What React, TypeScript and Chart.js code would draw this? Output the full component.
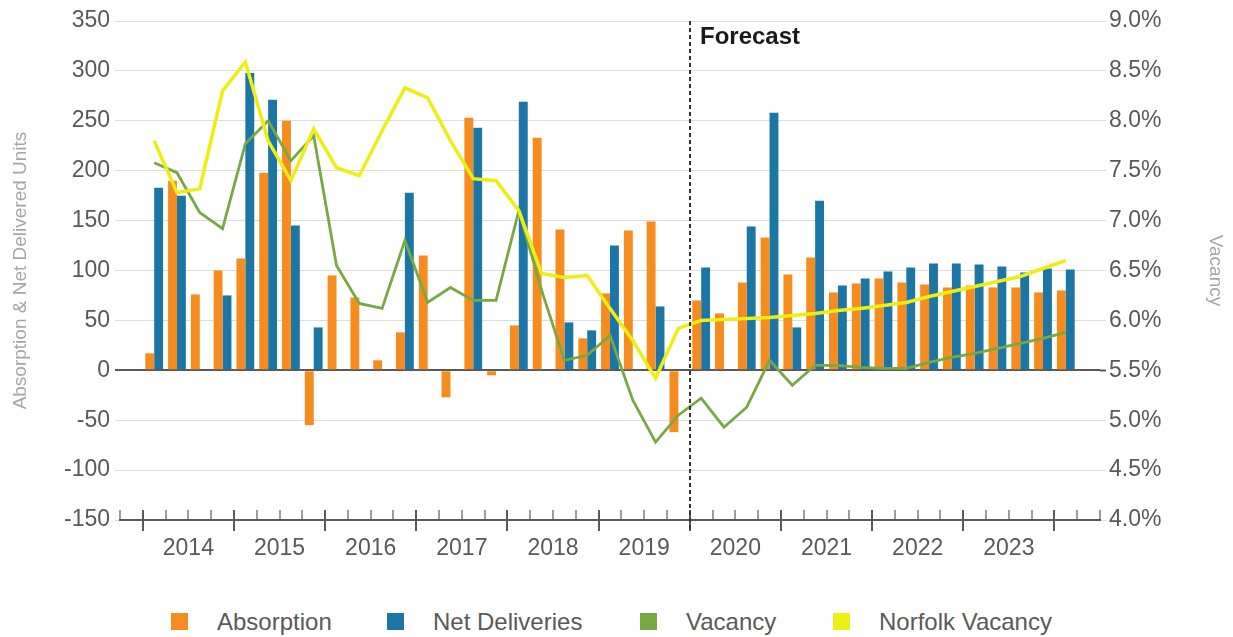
import React, { useEffect, useRef } from 'react';
import { Chart, registerables } from 'chart.js';

Chart.register(...registerables);

// ---- data -------------------------------------------------------------
const years = ['2014', '2015', '2016', '2017', '2018', '2019', '2020', '2021', '2022', '2023'];

// one entry per quarter, 2014 Q1 through 2024 Q1
const quarters = [
  ...years.flatMap((y) => ['Q1', 'Q2', 'Q3', 'Q4'].map((q) => `${y} ${q}`)),
  '2024 Q1',
];

const absorption = [
  17, 190, 76, 100,
  112, 198, 250, -55,
  95, 73, 10, 38,
  115, -27, 253, -5,
  45, 233, 141, 32,
  77, 140, 149, -62,
  70, 57, 88, 133,
  96, 113, 78, 87,
  92, 88, 86, 83,
  85, 83, 83, 78,
  80,
];

const netDeliveries = [
  183, 175, 0, 75,
  298, 271, 145, 43,
  0, 0, 0, 178,
  0, 0, 243, 0,
  269, 0, 48, 40,
  125, 0, 64, 0,
  103, 0, 144, 258,
  43, 170, 85, 92,
  99, 103, 107, 107,
  106, 104, 98, 102,
  101,
];

const vacancy = [
  7.58, 7.48, 7.08, 6.92,
  7.77, 8.0, 7.6, 7.85,
  6.55, 6.17, 6.12, 6.8,
  6.18, 6.33, 6.2, 6.2,
  7.1, 6.3, 5.6, 5.65,
  5.85, 5.2, 4.78, 5.05,
  5.22, 4.93, 5.13, 5.6,
  5.35, 5.55, 5.55, 5.53,
  5.52, 5.52, 5.58, 5.63,
  5.67, 5.72, 5.77, 5.82,
  5.88,
];

const norfolkVacancy = [
  7.8, 7.28, 7.32, 8.3,
  8.59, 7.8, 7.4, 7.92,
  7.53, 7.45, 7.9, 8.33,
  8.23, 7.8, 7.42, 7.4,
  7.1, 6.47, 6.43, 6.45,
  6.12, 5.8, 5.42, 5.92,
  6.0, 6.01, 6.02, 6.03,
  6.05, 6.07, 6.1, 6.12,
  6.15, 6.18, 6.24, 6.29,
  6.34, 6.39, 6.44, 6.52,
  6.6,
];

const forecastStart = '2020 Q1';

// ---- styling ----------------------------------------------------------
const FONT = '"Liberation Sans", Arial, Helvetica, sans-serif';
const ORANGE = '#f68b1f';
const BLUE = '#1b76a6';
const GREEN = '#77a843';
const YELLOW = '#eeee14';
const TEXT = '#595959';
const AXIS = '#5a5a5a';
const GRID = '#dcdcdc';

// an empty slot is kept on each side of the quarterly series
const pad = <T,>(arr: T[]): (T | null)[] => [null, ...arr, null];
const slotLabels = ['', ...quarters, ' '];
const slotCount = slotLabels.length;
const forecastAt = quarters.indexOf(forecastStart) + 1;

const legendItems = [
  { label: 'Absorption', color: ORANGE },
  { label: 'Net Deliveries', color: BLUE },
  { label: 'Vacancy', color: GREEN },
  { label: 'Norfolk Vacancy', color: YELLOW },
];
const legendTextX = [217, 433, 686, 879];

// quarter tick marks, year boundaries, and the forecast divider
const axisDecor = {
  id: 'axisDecor',
  afterDraw(chart: any) {
    const { ctx, chartArea } = chart;
    const s = chart.scales.x2;
    const bottom = chartArea.bottom;
    ctx.save();
    ctx.strokeStyle = AXIS;
    for (let k = 0; k <= slotCount; k++) {
      const px = Math.round(s.getPixelForValue(k));
      const major = k >= 1 && k <= quarters.length && (k - 1) % 4 === 0;
      ctx.lineWidth = major ? 2 : 1.2;
      ctx.beginPath();
      ctx.moveTo(px, bottom - 10);
      ctx.lineTo(px, major ? bottom + 11 : bottom);
      ctx.stroke();
    }

    const fx = Math.round(s.getPixelForValue(forecastAt));
    ctx.strokeStyle = '#333333';
    ctx.lineWidth = 2;
    ctx.setLineDash([4, 3]);
    ctx.beginPath();
    ctx.moveTo(fx, chartArea.top);
    ctx.lineTo(fx, bottom + 11);
    ctx.stroke();
    ctx.setLineDash([]);

    ctx.font = `bold 24px ${FONT}`;
    ctx.fillStyle = '#1a1a1a';
    ctx.textAlign = 'left';
    ctx.textBaseline = 'alphabetic';
    ctx.fillText('Forecast', fx + 10, chartArea.top + 23);
    ctx.restore();
  },
};

export default function App() {
  const canvasRef = useRef<HTMLCanvasElement>(null);

  useEffect(() => {
    const canvas = canvasRef.current;
    if (!canvas) return;

    const chart = new Chart(canvas, {
      type: 'bar',
      data: {
        labels: slotLabels,
        datasets: [
          {
            type: 'line',
            label: 'Norfolk Vacancy',
            data: pad(norfolkVacancy),
            borderColor: YELLOW,
            backgroundColor: YELLOW,
            borderWidth: 3.5,
            pointRadius: 0,
            tension: 0,
            yAxisID: 'y1',
            xAxisID: 'x',
            order: 0,
          },
          {
            type: 'line',
            label: 'Vacancy',
            data: pad(vacancy),
            borderColor: GREEN,
            backgroundColor: GREEN,
            borderWidth: 2.8,
            pointRadius: 0,
            tension: 0,
            yAxisID: 'y1',
            xAxisID: 'x',
            order: 1,
          },
          {
            type: 'bar',
            label: 'Absorption',
            data: pad(absorption),
            backgroundColor: ORANGE,
            yAxisID: 'y',
            xAxisID: 'x',
            categoryPercentage: 0.78,
            barPercentage: 1,
            order: 2,
          },
          {
            type: 'bar',
            label: 'Net Deliveries',
            data: pad(netDeliveries),
            backgroundColor: BLUE,
            yAxisID: 'y',
            xAxisID: 'x',
            categoryPercentage: 0.78,
            barPercentage: 1,
            order: 2,
          },
        ] as any,
      },
      options: {
        animation: false,
        responsive: true,
        maintainAspectRatio: false,
        devicePixelRatio: 1,
        layout: { padding: { top: 21, left: 0, right: 0, bottom: 0 } },
        plugins: {
          legend: { display: false },
          tooltip: { enabled: false },
        },
        scales: {
          x: {
            type: 'category',
            display: false,
            offset: true,
            grid: { display: false },
          },
          x2: {
            type: 'linear',
            position: 'bottom',
            offset: false,
            bounds: 'data',
            min: 0,
            max: slotCount,
            grid: { display: false, drawTicks: false, offset: false },
            border: { display: true, color: AXIS, width: 2 },
            afterBuildTicks: (scale: any) => {
              scale.ticks = years.map((_, i) => ({ value: 1 + i * 4 + 2 }));
            },
            afterFit: (scale: any) => {
              scale.height = 80;
            },
            ticks: {
              autoSkip: false,
              maxRotation: 0,
              padding: 15,
              color: TEXT,
              font: { family: FONT, size: 23 },
              callback: (_v: any, i: number) => years[i],
            },
          },
          y: {
            position: 'left',
            min: -150,
            max: 350,
            afterFit: (scale: any) => {
              scale.width = 120;
            },
            ticks: {
              stepSize: 50,
              padding: 5,
              color: TEXT,
              font: { family: FONT, size: 23 },
            },
            border: { display: false },
            grid: {
              drawTicks: true,
              tickLength: 5,
              color: (c: any) =>
                c.tick.value === 0 ? AXIS : c.tick.value === -150 ? 'rgba(0,0,0,0)' : GRID,
              tickColor: (c: any) => (c.tick.value === 0 ? AXIS : GRID),
              lineWidth: (c: any) => (c.tick.value === 0 ? 2 : 1),
              tickWidth: (c: any) => (c.tick.value === 0 ? 2 : 1),
            },
            title: {
              display: true,
              text: 'Absorption & Net Delivered Units',
              color: '#a6a6a6',
              font: { family: FONT, size: 19 },
              padding: { top: 9, bottom: 0 },
            },
          },
          y1: {
            position: 'right',
            min: 4,
            max: 9,
            afterFit: (scale: any) => {
              scale.width = 133;
            },
            ticks: {
              stepSize: 0.5,
              padding: 3,
              color: TEXT,
              font: { family: FONT, size: 23 },
              callback: (v: any) => `${Number(v).toFixed(1)}%`,
            },
            border: { display: false },
            grid: {
              drawOnChartArea: false,
              drawTicks: true,
              tickLength: 6,
              tickColor: (c: any) => (Math.abs(c.tick.value - 5.5) < 1e-6 ? AXIS : GRID),
              tickWidth: (c: any) => (Math.abs(c.tick.value - 5.5) < 1e-6 ? 2 : 1),
            },
            title: {
              display: true,
              text: 'Vacancy',
              color: '#a6a6a6',
              font: { family: FONT, size: 19 },
              padding: { top: 6, bottom: 0 },
            },
          },
        },
      } as any,
      plugins: [axisDecor],
    });

    return () => chart.destroy();
  }, []);

  return (
    <div
      style={{
        position: 'fixed',
        left: 0,
        top: 0,
        width: 1233,
        height: 637,
        background: '#ffffff',
        fontFamily: FONT,
      }}
    >
      <div style={{ position: 'absolute', left: 0, top: 0, width: 1233, height: 600 }}>
        <canvas ref={canvasRef} />
      </div>
      {legendItems.map((item, i) => (
        <React.Fragment key={item.label}>
          <div
            style={{
              position: 'absolute',
              left: legendTextX[i] - 46,
              top: 613,
              width: 17,
              height: 17,
              background: item.color,
            }}
          />
          <div
            style={{
              position: 'absolute',
              left: legendTextX[i],
              top: 610,
              fontSize: 24,
              lineHeight: '24px',
              color: TEXT,
              whiteSpace: 'nowrap',
            }}
          >
            {item.label}
          </div>
        </React.Fragment>
      ))}
    </div>
  );
}
